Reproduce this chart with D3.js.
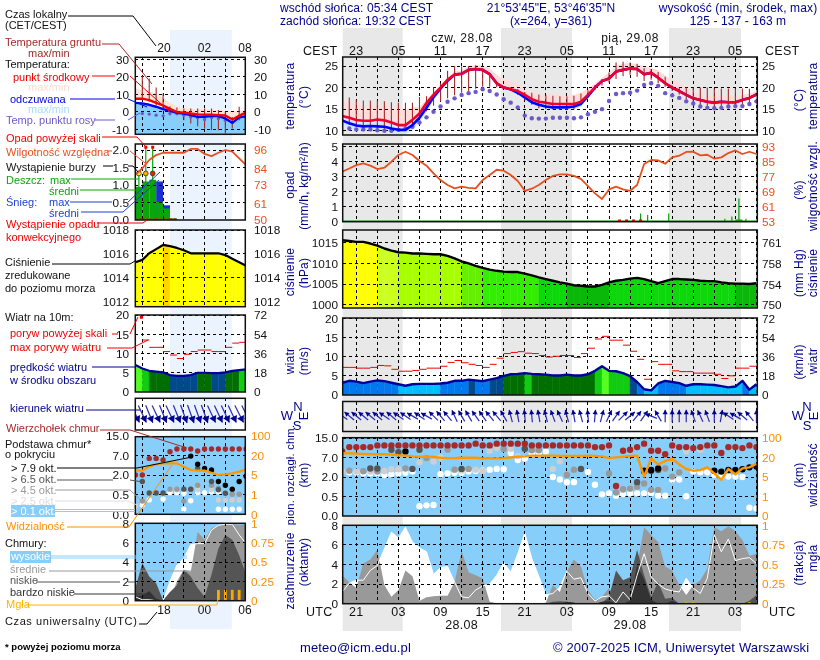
<!DOCTYPE html>
<html>
<head>
<meta charset="utf-8">
<script src="https://cdn.jsdelivr.net/npm/d3@7"></script>
<style>
  body { margin: 0; background: #fff; }
  svg { display: block; }
  text { font-family: "Liberation Sans", Arial, sans-serif; font-size: 11px; }
</style>
</head>
<body>
<div id="chart"></div>
<script>
// ---- main meteogram, one value per hour, first point is 19 UTC ----
const tempMid = [13.4,13,12.5,12.3,12.3,12.6,12.4,11.9,11.3,11.3,12.5,14,16.4,18.3,20,21.8,23,23.2,24.1,24.3,24.1,23.1,21,20,19.6,19.2,18.3,17.3,16.7,16.5,16.2,16.2,16.2,16.2,16.7,18.3,20,21.5,22.1,23.7,24.1,24.4,24.3,23.1,23.4,22.3,21,20,19.2,18.3,17.5,17.1,16.7,16.5,16.7,16.6,16.6,17.1,17.6,18.4];
const tempMax = [16.7,16.6,16,15.7,15.7,15.9,15.7,15.4,15.2,14.8,15.4,15.6,17.1,19,20.6,22.4,23.7,23.9,25,25.2,25.1,24.5,23,21.8,21.4,21,19.9,18.7,18.3,18.5,18.3,18.3,18.3,18.3,18.8,19.8,21,22.3,23.5,25,25.6,25.7,25.4,25,24.6,24,22.8,21.8,21,20,19,18.4,18.2,18,18,18,18,18.2,18.6,19.2];
const feelsMid = [12.4,11.7,11.2,11,11.1,11,10.9,10.5,10.2,10.2,11.3,13,15.3,17.8,19.8,21.6,23,23.2,24.1,24.3,24.1,23.1,21,20,19.6,18.8,17.7,16.6,16,15.6,15.4,15.4,15.4,15.6,16.2,18,20,21.5,22.1,23.7,24.1,24.4,24.3,23.1,23.4,22.3,21,20,19.2,18.3,17.5,17.1,16.7,16.5,16.7,16.6,16.6,17.1,17.6,18.4];
const feelsMin = [11.2,10.5,10,10,10,10,9.8,9.5,9.2,9.2,10,12,14.3,17,19,21,22.5,22.8,23.8,24,23.6,22.6,20.5,19.5,19,18.3,17.1,16,15.4,15,14.8,14.8,14.8,14.8,15.6,17.5,19.6,21.2,21.8,23.4,23.8,24.1,24,22.8,23.1,22,20.7,19.7,18.9,18,17.2,16.8,16.4,16.2,16.4,16.3,16.3,16.8,17.3,18.1];
const dewPoint = [null,10.5,10.3,10.3,10.3,10.1,10,10,10.2,10.5,10.9,11.9,13.1,14.4,15.6,16.7,17.5,18.3,18.7,19,19.6,19.2,18.4,17.3,16.5,15.4,13.5,12.9,12.8,12.8,13,13,13,12.9,13.1,13.8,14.4,15,16.9,18.5,18.7,18.8,19.3,20.6,21,20.4,18.7,18.2,17.6,16.8,16.3,15.6,15.3,15.2,15.3,15.6,15.7,15.7,16.2,16.8];
const groundMax = [null,17.7,17.2,17,17,17,16.8,16.6,16.5,16.5,16.5,17.8,18,20,21,23.9,25,24.9,25,25.2,24.5,23,21,20.1,20,19.6,19,18.8,18.4,18.2,18.1,18,18,18.1,18.6,19.4,20.6,22,23.5,25.8,26,25.8,25.5,24.5,24.3,23.6,22.5,20.5,20,20,20,20,20,19.8,19.8,19.8,19.8,19.8,19.7,null];
const groundMin = [null,11.3,10.9,10.7,10.6,10.4,10.3,10.2,10.4,10.6,11.5,13,14.5,15.8,16.8,17.5,18.2,18.8,19.2,19.7,20.2,20.2,20.1,19.6,19.2,18.3,17,16,15.2,15,14.9,14.8,14.8,15,16,17.7,19.5,20.5,21.2,22,22.6,23,22.5,21.5,21.8,21,20.2,19.2,18.4,17.2,16,15.4,15.2,15.2,15.2,15.2,15.2,15.5,16,null];
const humidity = [79.7,81.4,83.2,84.1,82.9,81.1,81.8,85,88.6,90.3,88.6,85.4,82.9,78.8,75.2,72.6,70.8,71.7,71,70.8,75.2,77.9,80.7,80.2,77.9,74.7,69.5,70.6,72.6,75.2,77.4,78.2,78.2,77.4,75.8,72,68.1,65.1,70.2,71.7,70.2,69.5,72.6,83.8,85.9,85.7,83.9,87.3,88.2,90.2,90.3,88.4,88.7,86.6,87.3,89.6,91,89.1,90.3,89.1];
const rainHours = [42,43,46,54,55,56,57];
const rainVals = [0.55,0.45,0.55,0.2,0.35,1.55,0.2];
const convHours = [39,40,41,42];
const pressure = [1015.6,1015.4,1015.2,1015.2,1014.8,1014.3,1013.6,1013.1,1012.7,1012.6,1012.4,1012.4,1012.3,1012.2,1012.2,1011.8,1011.2,1010.5,1010,1009.4,1008.9,1008.5,1008.2,1008,1007.9,1007.9,1007.5,1007.1,1006.6,1006.2,1005.8,1005.4,1005.1,1004.7,1004.6,1004.4,1004.4,1004.8,1005.4,1005.8,1006,1006.3,1006.5,1006.2,1005.7,1005.2,1005.7,1006.2,1006.2,1006.1,1006,1005.8,1005.7,1005.7,1005.4,1005.2,1005.1,1005.1,1005,1005.2];
const wind = [3.2,3.7,3.5,3.1,3.5,3.8,3.6,3.2,2.8,2.4,2.8,2.9,2.9,2.9,3,3.2,3.7,3.7,4,3.8,3.6,4,4.4,5,5.4,5.5,5.7,5.5,5.4,5.3,5.1,5.1,5.3,5.1,5.1,5.4,6.3,7.5,6.3,6.2,5.7,4.9,3.4,1.5,1.2,3,3.7,3.4,3.1,2.4,2.8,2.8,2.7,2.6,2.3,2,2.2,3.7,1.4,2.8];
const gusts = [7.2,7.2,7,7,7.2,7.7,7.6,6.7,6.2,6.2,6.4,6.7,7,7,7.5,8.5,9,8.4,8,7.7,7.2,8,9.6,10.8,11.1,11.3,10.9,10.8,10.3,9.9,10.1,10.3,10.3,9.8,10.8,12.2,14.6,15.3,14.3,14.3,13,11.4,9.3,4.1,8.7,8,8,6.3,6.1,6.1,5.7,5.7,5.7,5.4,4.3,5,7,7,7.5,null];
const windHeading = [305,310,310,310,310,310,305,310,305,305,300,305,300,315,320,320,335,330,330,325,325,320,320,330,345,350,355,355,350,345,340,335,345,350,345,355,5,15,25,35,45,50,40,35,292,330,0,0,0,0,340,335,340,0,10,305,300,310,320,0];
const cloudTop = [9.5,11.3,11.3,11.3,11.3,12,12,12,12,12,12,12,12,12,12,12,12,12,12,12.7,12,12,12.7,12.7,12.7,12.7,12.7,12,12,12,12,12,12,12,12,12,11.3,11.3,12,1.3,9.8,10.2,11.3,12.7,9.8,9.8,8.4,12,11.3,11.3,10.9,11.3,12,12,8.9,11.3,11.3,10.9,12,11.3];
const baseOver01 = [[1,3.2],[2,3.2],[3,2.95],[4,2.95],[5,2.95],[6,2.5],[7,2.7],[8,2.95],[9,3.1],[10,3.4],[11,0.25],[12,0.27],[13,0.28],[14,2.7],[15,2.95],[16,3.1],[17,3.1],[18,3.4],[19,3.55],[20,3.7],[21,3.9],[22,4.1],[23,4],[24,8.8],[25,6.4],[26,6.8],[27,8.8],[28,8.8],[29,9.5],[30,2],[31,1.8],[32,1.6],[33,1.6],[35,3.3],[36,1.4],[37,0.65],[38,0.73],[39,0.55],[40,0.68],[41,0.73],[42,0.73],[43,0.73],[44,0.73],[45,0.55],[46,0.55],[47,1.8],[48,1.8],[49,0.5],[50,3.4],[51,3.2],[52,3.2],[53,2.5],[54,2.1],[55,2.1],[56,2.1],[57,2],[58,0.21],[59,0.19]];
const baseOver25 = [[0,3.4],[2,3.4],[4,3.4],[6,3.55],[7,4],[8,4],[11,5.8],[13,6],[14,7.1],[17,3.7],[19,3.9],[20,3.6],[21,9.8],[22,10.9],[24,10.6],[25,7.7],[30,4.1],[31,6.1],[40,1],[41,1.1],[49,9.5],[51,10.2]];
const baseOver45 = [[1,3.6],[3,3.5],[5,3.4],[9,4.2],[12,6.9],[15,10.2],[16,3.9],[18,4.1],[23,10.5],[26,10.6],[27,10],[28,10],[32,2.5],[33,3.9],[38,2.9],[39,0.8],[40,1.05],[41,1.1],[42,1.25],[43,1.5],[44,1],[45,1],[46,4.2],[47,2.1],[48,3.2]];
const baseOver65 = [[4,4.2],[5,4.2],[7,10.2],[8,9.2],[10,4.1],[11,10.2],[17,4.1],[26,10.6],[34,4.1],[42,1.6],[43,3.4],[44,3.55],[45,3.8]];
const baseOver79 = [[9,9.5],[43,3.6],[44,3.8],[45,4.2],[53,3.6],[54,3.4],[55,3.8],[56,3.8],[57,4],[58,4.5],[59,4.7]];
const visibility = [37.9,37.9,36.6,35.2,33.8,33.8,33.8,32.4,29.7,28.3,25.5,24.1,24.1,22.8,20,19.7,19.7,20,20,20,19.5,19.7,19.5,19.7,21.4,24.1,25.5,28.3,28.3,28.3,28.3,26.9,26.9,26.9,26.9,28.3,26.9,25.5,19.7,21.4,24.1,26.9,28.3,5.3,19.5,14.8,17.4,19.2,14.8,11.2,9.9,10.4,12.5,7.8,4.4,11.2,7.1,11.7,12.5,15.4];
const coverHigh = [1.2,2.1,2.4,2.4,3.4,3.9,5.6,7.3,6.7,7.8,6.3,5.7,5.3,3,3.7,3.8,2.2,0.7,0.6,1.4,1.8,2,2.9,4.2,3.2,5.1,7.2,4.6,2.8,0.9,1.05,1.7,3.3,2.5,2.65,1.05,0.27,0.7,0.8,0.1,1.2,0.4,2.9,5.1,2.75,2,1.5,1.3,1.2,2.6,1.6,1.05,2.6,7,5.3,6.6,4.4,4.6,4.7,4.1];
const coverMid = [2.9,2.2,1.6,4.1,4.5,5.5,1.9,0.7,1.4,3.4,2.8,0.3,0.65,0.75,0.8,0.8,2.2,5.4,3.2,2.9,2.6,0.2,0.05,0,0,0,0,0,0,0.1,1.9,1.2,3.3,4.5,3.8,1.4,0.4,0.7,1.6,0.4,1.6,2.2,3.9,7.8,7,6.3,3.8,3.4,1.9,0.9,1.9,2.4,3.6,7.8,7.4,7.9,7.4,6.5,4.9,5.1];
const coverLow = [0,0,0,0,0,0,0,0,0,0,0,0,0,0,0,0,0,0,0,0,0,0,0,0,0,0,0,0,0,0,0.2,0.25,0.2,0.1,0,0,0,0.1,0.7,3.4,2.4,2.7,5.5,2.9,0.7,2.2,0.5,0.6,0,0,0,0,0,0,0,0,0,0,0.3,0.9];
const coverVeryLow = [0,0,0,0,0,0,0,0,0,0,0,0,0,0,0,0,0,0,0,0,0,0,0,0,0,0,0,0,0,0,0,0,0.2,0.1,0,0,0,0.2,0.3,0,0,0.3,3.9,2.5,0.4,0,0,0.3,0,0,0,0,0,0,0,0,0,0,0,0.1];
const fogHours = [49,50,58];
const fogVals = [0.02,0.02,0.02];

// ---- small history panels on the left, one value per hour, first point is 14 UTC ----
const sTempMid = [7.5,7.5,6.7,5.1,3.6,1.7,-0.2,-0.4,-1,-1.5,-1.7,-1.7,-1.9,-2.1,-4.4,-2.3,-0.3];
const sTempMax = [13.3,12.5,11.5,10.5,8,5,3,2,1.8,1.5,1.2,1.2,1,0.8,0.2,0.8,0.6];
const sFeelsMid = [5.1,4.8,4,2.9,1.5,0.6,-0.6,-1,-1.9,-2.9,-2.9,-2.3,-2.5,-3.8,-6.3,-3.2,-2.5];
const sFeelsMin = [-13,-13,-13,-13,-13,-13,-13,-13,-13,-13,-13,-13,-13,-13,-13,-13,-13];
const sDewPoint = [null,-1,-1.3,-1.9,-2.3,-1,-1,-1.9,-3,-3.4,-4.4,-3.2,-3.8,-4.8,-6.1,-3.2,null];
const sGroundMax = [null,20.4,19,13.9,10.5,3.2,2.5,1.9,1.9,1.9,1.9,1.9,1,0,-2.9,2.9,null];
const sGroundMin = [null,6.7,5.7,3.8,1.9,-1.9,-1.9,-4.8,-6.7,-8.2,-9.5,-10.5,-10.5,-12.4,-9.5,-4.8,null];
const sHumidity = [79.6,84,89.4,92.7,94.2,94.2,94.2,94.2,96.7,96.7,93.4,92,94.2,96,94.9,90.5,86];
const sRain = [0.95,1.1,1.15,0.52,0.33,0.05];
const sSnow = [0,0,0,1.1,0.42,0];
const sRainMax = [1.38,2.08,2.08];
const sStormColors = ["#ffee00","#ffaa00","#ee2200"];
const sPressure = [1015.3,1015.5,1016.05,1016.4,1016.75,1016.65,1016.5,1016.3,1016.05,1016.05,1016.05,1016.05,1016.05,1015.9,1015.6,1015.3,1015];
const sWind = [7,6.1,5.5,5.3,5.1,4.4,4.2,4.2,4.4,5,5,4.9,4.9,5.1,5.5,5.7,5.9];
const sGusts = [null,13.5,11.6,11.6,10.5,9.6,8.7,9.8,10.5,10.9,10.9,10.5,10.5,11.6,12.7,12.9,null];
const sGustOver = [0.5];
const sHeading = [155,155,158,155,158,155,158,160,160,160,160,155,155,155,155,153,153];
const sCloudTop = [2,2,6.3,6.3,5.9,8.6,9.66,9.66,9.66,8.9,9.66,9.66,9.66,9.66,9.66,9.66,9.66];
const sBaseOver01 = [[1,0.23],[2,0.36],[4,0.38],[5,0.63],[6,0.63],[7,0.58],[7,0.13],[8,0.34],[9,0.63],[10,0.63],[11,0.7],[12,0.7],[12,0.125],[13,0.125],[14,0.125],[15,0.125]];
const sBaseOver25 = [[0,0.2],[5,0.9],[6,0.85],[9,0.85],[11,0.85],[12,0.36],[13,0.36],[14,0.36],[15,0.36]];
const sBaseOver45 = [[1,0.33],[5,0.9],[6,0.9],[7,0.33],[8,0.9],[9,1.2],[11,1.2],[12,0.97],[14,0.5],[15,0.5]];
const sBaseOver65 = [[1,1.5],[2,0.6],[3,0.6],[4,0.6],[7,0.9],[8,0.9],[9,3.7],[11,1.5],[12,0.85],[13,0.58]];
const sBaseOver79 = [[8,6.9],[9,4.8],[10,3.7],[11,3.3],[12,1.5],[13,1.2],[14,0.9],[15,1.5],[16,1.9]];
const sVisibility = [8.4,8.4,11.5,13.3,14,14,14,11.5,8.9,8.4,8.4,6.8,5,5.5,6.3,7.6,9.4];
const sCoverHigh = [0.4,0.1,0.1,0,0,2,3.7,4.4,5.8,5.9,5.9,7.3,7.8,7.9,7.9,6.8,5.9];
const sCoverMid = [0,0,0,0,0,0,2,3.2,3,7.1,6.3,7.5,7.8,7.9,7.9,7.8,7.9];
const sCoverLow = [1.3,3.9,2.5,1.8,0.05,0.9,1.6,3.2,2.5,1.3,0.4,2.7,5.4,6.8,6.3,4.7,2.7];
const sCoverVeryLow = [0.5,0.5,1,0.2,0,0,0,0,0,0,0,0,0,0,0,0,0];
const sFogHours = [12,13,14,15];
const sFogVals = [0.14,0.14,0.14,0.14];

// tick labels
const localTicks = ["23","05","11","17","23","05","11","17","23","05"];
const utcTicks = ["21","03","09","15","21","03","09","15","21","03"];
const sLocalTicks = ["20","02","08"];
const sUtcTicks = ["18","00","06"];

const W = 820, H = 660;
const svg = d3.select("#chart").append("svg").attr("width", W).attr("height", H);
const navy = "#00008b", brown = "#a52a2a", orange = "#ff8c00", rhColor = "#e6501e";

const x = d3.scaleLinear().domain([0, 59]).range([342.26, 342.26 + 7.02 * 59]);
const sx = d3.scaleLinear().domain([0, 16]).range([135.4, 246.1]);
const xMain = { scale: x, l: 342.7, r: 757.3, grid: d3.range(2, 60, 3), name: "m" };
const xSide = { scale: sx, l: 135.3, r: 245.3, grid: d3.range(1, 17, 3), name: "s" };

// day/night bands sit behind everything
[[342.7, 402.7], [501, 572], [669, 741]].forEach(b => {
  svg.append("rect").attr("x", b[0]).attr("y", 28).attr("width", b[1] - b[0]).attr("height", 603).attr("fill", "#e8e8e8");
});
svg.append("rect").attr("x", 170).attr("y", 30).attr("width", 61.7).attr("height", 599).attr("fill", "#ebf3fe");

let clipN = 0;
// one panel: clip group + frame + dashed grid, returned so marks can go inside
function panel(X, top, bottom) {
  const id = "clip" + (clipN++);
  svg.append("clipPath").attr("id", id).append("rect")
    .attr("x", X.l).attr("y", top).attr("width", X.r - X.l).attr("height", bottom - top);
  const g = svg.append("g").attr("clip-path", `url(#${id})`);
  return { g, X, top, bottom };
}
function grid(p, yVals) {
  const g = p.g.append("g").attr("stroke", "#000").attr("stroke-width", 1).attr("stroke-dasharray", "3,3").attr("shape-rendering", "crispEdges");
  p.X.grid.forEach(t => g.append("line").attr("x1", p.X.scale(t)).attr("x2", p.X.scale(t)).attr("y1", p.top).attr("y2", p.bottom));
  yVals.forEach(y => g.append("line").attr("x1", p.X.l).attr("x2", p.X.r).attr("y1", y).attr("y2", y));
}
function frame(p) {
  svg.append("rect").attr("x", p.X.l).attr("y", p.top).attr("width", p.X.r - p.X.l).attr("height", p.bottom - p.top)
    .attr("fill", "none").attr("stroke", "#111").attr("stroke-width", 1.5);
}
function axis(gen, scale, vals, xPos, color, fmt) {
  const g = svg.append("g").attr("transform", `translate(${xPos},0)`)
    .call(gen(scale).tickValues(vals).tickSize(0).tickPadding(0).tickFormat(fmt || (d => d)));
  g.select(".domain").remove();
  g.selectAll("text").attr("fill", color).style("font-size", "11.8px").style("font-family", '"Liberation Sans"');
}
function drawLine(p, vals, color, width) {
  return (yS) => p.g.append("path")
    .attr("d", d3.line().defined(d => d != null).x((d, i) => p.X.scale(i)).y(d => yS(d))(vals))
    .attr("fill", "none").attr("stroke", color).attr("stroke-width", width).attr("stroke-linejoin", "round");
}
function band(p, y0vals, y1vals, yS, color) {
  p.g.append("path")
    .datum(d3.range(y0vals.length))
    .attr("d", d3.area().x(i => p.X.scale(i)).y0(i => yS(y0vals[i])).y1(i => yS(y1vals[i])))
    .attr("fill", color).style("mix-blend-mode", "multiply");
}
// coloured columns under a line, colour comes from the value in that hour
function stepFill(p, vals, yS, colorScale) {
  const a = d3.area().x(d => p.X.scale(d.t)).y0(p.bottom).y1(d => yS(d.v));
  vals.slice(0, -1).forEach((v, i) => {
    p.g.append("path").attr("d", a([{ t: i, v: v }, { t: i + 1, v: vals[i + 1] }]))
      .attr("fill", colorScale(v)).attr("stroke", colorScale(v)).attr("stroke-width", 0.4);
  });
}
function dots(p, pts, yS, color, r) {
  p.g.selectAll(null).data(pts).enter().append("circle")
    .attr("cx", d => p.X.scale(d[0])).attr("cy", d => yS(d[1])).attr("r", r).attr("fill", color);
}
function arrows(p, heads, cy, len, headL, headW) {
  heads.forEach((h, i) => {
    const a = h * Math.PI / 180, cx = p.X.scale(i);
    const dx = Math.sin(a) * len / 2, dy = -Math.cos(a) * len / 2;
    const g = p.g.append("g").attr("transform", `translate(${cx + dx},${cy + dy}) rotate(${h})`);
    g.append("line").attr("x1", 0).attr("y1", 0).attr("x2", 0).attr("y2", len).attr("stroke", "#2a2ab8").attr("stroke-width", 1.2);
    g.append("path").attr("d", `M0,0L${headW},${headL}L${-headW},${headL}Z`).attr("fill", "#000090");
  });
}

const pressColor = d3.scaleThreshold().domain([1005.15, 1007, 1009, 1011.2, 1012.9, 1014.7, 1016.7])
  .range(["#09b809", "#0cd80c", "#33ee00", "#66f000", "#a8ff00", "#ccff22", "#ffff00", "#ffd400"]);
const windColor = d3.scaleThreshold().domain([3, 4, 5, 5.6, 7])
  .range(["#00bfff", "#0078f0", "#004a8c", "#006f00", "#12cc12", "#55ff22"]);

// ================= MAIN COLUMN =================
// temperature
{
  const y = d3.scaleLinear().domain([10, 25]).range([130.7, 66]);
  const p = panel(xMain, 57, 135);
  band(p, tempMid, tempMax, y, "#ffdcdc");
  band(p, feelsMin, tempMid, y, "#cfe8ff");
  grid(p, [10, 15, 20, 25].map(y));
  groundMax.forEach((v, i) => {
    if (v != null) p.g.append("line").attr("x1", x(i)).attr("x2", x(i)).attr("y1", y(v)).attr("y2", y(groundMin[i])).attr("stroke", brown).attr("stroke-width", 1.1);
  });
  dots(p, dewPoint.map((v, i) => [i, v]).filter(d => d[1] != null), y, "#6a5acd", 2.2);
  drawLine(p, feelsMid, "#0000ff", 2.6)(y);
  drawLine(p, tempMid, "#f0002a", 2.6)(y);
  frame(p);
  axis(d3.axisLeft, y, [10, 15, 20, 25], 338, "#111");
  axis(d3.axisRight, y, [10, 15, 20, 25], 762, "#111");
}
// rain + humidity
{
  const y = d3.scaleLinear().domain([0, 5]).range([221.7, 146.7]);
  const rh = d3.scaleLinear().domain([53, 93]).range([221.7, 146.7]);
  const p = panel(xMain, 144, 221.7);
  grid(p, [0, 1, 2, 3, 4, 5].map(y));
  p.g.append("line").attr("x1", p.X.l).attr("x2", p.X.r).attr("y1", 221).attr("y2", 221).attr("stroke", "#0a9a0a");
  rainHours.forEach((h, i) => p.g.append("line").attr("x1", x(h + 0.5)).attr("x2", x(h + 0.5)).attr("y1", y(0)).attr("y2", y(rainVals[i])).attr("stroke", "#0aa00a").attr("stroke-width", 1.2));
  convHours.forEach(h => p.g.append("rect").attr("x", x(h + 0.5) - 1.5).attr("y", 219.5).attr("width", 3).attr("height", 2).attr("fill", "#e00000"));
  p.g.append("rect").attr("x", x(56.5) - 3.5).attr("y", 219.5).attr("width", 7).attr("height", 2).attr("fill", "#0aa00a");
  drawLine(p, humidity, rhColor, 1.8)(rh);
  frame(p);
  axis(d3.axisLeft, y, [0, 1, 2, 3, 4, 5], 338, "#111");
  axis(d3.axisRight, rh, [53, 61, 69, 77, 85, 93], 762, rhColor);
}
// pressure
{
  const y = d3.scaleLinear().domain([1000, 1015]).range([304.7, 242.7]);
  const hg = d3.scaleLinear().domain([750, 754, 758, 761]).range([304.7, 284.3, 263.3, 242.7]);
  const p = panel(xMain, 230, 308);
  stepFill(p, pressure, y, pressColor);
  grid(p, [1000, 1005, 1010, 1015].map(y));
  drawLine(p, pressure, "#000", 2.4)(y);
  frame(p);
  axis(d3.axisLeft, y, [1000, 1005, 1010, 1015], 338, "#111");
  axis(d3.axisRight, hg, [750, 754, 758, 761], 762, "#111");
}
// wind speed, the fill hides the grid here
{
  const y = d3.scaleLinear().domain([0, 20]).range([395, 318.3]);
  const kmh = d3.scaleLinear().domain([0, 72]).range([395, 318.3]);
  const p = panel(xMain, 318, 395);
  grid(p, [5, 10, 15, 20].map(y));
  stepFill(p, wind, y, windColor);
  gusts.forEach((v, i) => {
    if (v != null) p.g.append("line").attr("x1", x(i)).attr("x2", x(i + 1)).attr("y1", y(v)).attr("y2", y(v)).attr("stroke", "#f00000").attr("stroke-width", 1);
  });
  drawLine(p, wind, "#00009a", 2.4)(y);
  frame(p);
  axis(d3.axisLeft, y, [0, 5, 10, 15, 20], 338, "#111");
  axis(d3.axisRight, kmh, [0, 18, 36, 54, 72], 762, "#111");
}
// wind direction
{
  const p = panel(xMain, 401.5, 431.5);
  grid(p, []);
  arrows(p, windHeading, 416, 12.5, 4.5, 2.6);
  frame(p);
}
// cloud base / top + visibility
const cloudRange = [516, 496.3, 477, 457.7, 438];
{
  const y = d3.scaleLinear().domain([0, 0.5, 2, 7, 15]).range(cloudRange);
  const vis = d3.scaleLinear().domain([0, 1, 5, 20, 100]).range(cloudRange);
  const p = panel(xMain, 437.7, 516);
  p.g.append("rect").attr("x", p.X.l).attr("y", p.top).attr("width", p.X.r - p.X.l).attr("height", p.bottom - p.top).attr("fill", "#87cefa").style("mix-blend-mode", "multiply");
  grid(p, cloudRange);
  dots(p, baseOver01, y, "#ffffff", 3.2);
  dots(p, baseOver25, y, "#cfcfcf", 3.2);
  dots(p, baseOver45, y, "#999999", 3.2);
  dots(p, baseOver65, y, "#555555", 3.2);
  dots(p, baseOver79, y, "#000000", 3.2);
  dots(p, cloudTop.map((v, i) => [i, v]), y, brown, 3.2);
  drawLine(p, visibility, "#ff9800", 2.4)(vis);
  frame(p);
  axis(d3.axisLeft, y, [0, 0.5, 2, 7, 15], 338, "#111", d3.format(".1f"));
  axis(d3.axisRight, vis, [0, 1, 5, 20, 100], 762, orange);
}
// cloud cover
{
  const y = d3.scaleLinear().domain([0, 8]).range([603.7, 525.3]);
  const fr = d3.scaleLinear().domain([0, 1]).range([603.7, 525.3]);
  const p = panel(xMain, 525.3, 603.7);
  p.g.append("rect").attr("x", p.X.l).attr("y", p.top).attr("width", p.X.r - p.X.l).attr("height", p.bottom - p.top).attr("fill", "#87cefa").style("mix-blend-mode", "multiply");
  const area = d3.area().x((d, i) => x(i)).y0(y(0)).y1(d => y(d));
  p.g.append("path").attr("d", area(coverHigh)).attr("fill", "#fff");
  p.g.append("path").attr("d", area(coverMid)).attr("fill", "#999");
  p.g.append("path").attr("d", area(coverLow)).attr("fill", "#555");
  p.g.append("path").attr("d", area(coverVeryLow)).attr("fill", "#333");
  drawLine(p, coverHigh, "#fff", 1)(y);
  fogHours.forEach((h, i) => p.g.append("rect").attr("x", x(h) - 1.3).attr("y", fr(fogVals[i])).attr("width", 2.6).attr("height", 603.7 - fr(fogVals[i])).attr("fill", "#ffa500"));
  grid(p, [0, 2, 4, 6, 8].map(y));
  frame(p);
  axis(d3.axisLeft, y, [0, 2, 4, 6, 8], 338, "#111");
  axis(d3.axisRight, fr, [0, 0.25, 0.5, 0.75, 1], 762, orange);
}

// ================= HISTORY COLUMN =================
{
  const y = d3.scaleLinear().domain([-10, 30]).range([129.3, 59.3]);
  const p = panel(xSide, 57.3, 134.3);
  band(p, sTempMid, sTempMax, y, "#ffe2d8");
  band(p, sFeelsMin, sFeelsMid, y, "#87cefa");
  grid(p, [-10, 0, 10, 20, 30].map(y));
  sGroundMax.forEach((v, i) => {
    if (v != null) p.g.append("line").attr("x1", sx(i)).attr("x2", sx(i)).attr("y1", y(v)).attr("y2", y(sGroundMin[i])).attr("stroke", brown).attr("stroke-width", 1.1);
  });
  dots(p, sDewPoint.map((v, i) => [i, v]).filter(d => d[1] != null), y, "#6a5acd", 1.7);
  drawLine(p, sFeelsMid, "#0000ff", 2.4)(y);
  drawLine(p, sTempMid, "#f00000", 2.4)(y);
  frame(p);
  axis(d3.axisLeft, y, [-10, 0, 10, 20, 30], 129, "#111");
  axis(d3.axisRight, y, [-10, 0, 10, 20, 30], 254, "#111");
}
{
  const y = d3.scaleLinear().domain([0, 2]).range([220, 150]);
  const rh = d3.scaleLinear().domain([50, 96]).range([220, 150]);
  const p = panel(xSide, 144, 220);
  sSnow.forEach((v, i) => {
    if (v > 0) p.g.append("rect").attr("x", sx(i)).attr("y", y(v)).attr("width", sx(i + 1) - sx(i)).attr("height", y(0) - y(v)).attr("fill", "#1c2fd0");
  });
  sRain.forEach((v, i) => p.g.append("rect").attr("x", sx(i)).attr("y", y(v)).attr("width", sx(i + 1) - sx(i)).attr("height", y(0) - y(v)).attr("fill", "#0aa50a"));
  grid(p, [0, 0.5, 1, 1.5, 2].map(y));
  sRainMax.forEach((v, i) => {
    p.g.append("line").attr("x1", sx(i + 0.5)).attr("x2", sx(i + 0.5)).attr("y1", y(0.9)).attr("y2", y(v)).attr("stroke", "#0aa50a").attr("stroke-width", 1.2);
    if (v > 2) p.g.append("rect").attr("x", sx(i + 0.5) - 1.5).attr("y", y(v) - 1.5).attr("width", 3).attr("height", 3).attr("fill", "#f00000");
    p.g.append("circle").attr("cx", sx(i + 0.5)).attr("cy", y(1.33)).attr("r", 2.4).attr("fill", sStormColors[i]).attr("stroke", "#333").attr("stroke-width", 0.8);
  });
  sRain.forEach((v, i) => p.g.append("line").attr("x1", sx(i)).attr("x2", sx(i + 1)).attr("y1", 219).attr("y2", 219).attr("stroke", "#f00000").attr("stroke-dasharray", "2,2"));
  drawLine(p, sHumidity, rhColor, 1.8)(rh);
  frame(p);
  axis(d3.axisLeft, y, [0, 0.5, 1, 1.5, 2], 129, "#111", d3.format(".1f"));
  axis(d3.axisRight, rh, [50, 61, 73, 84, 96], 254, rhColor);
}
{
  const y = d3.scaleLinear().domain([1012, 1018]).range([301.7, 230]);
  const p = panel(xSide, 230, 306.7);
  stepFill(p, sPressure, y, pressColor);
  grid(p, [1012, 1014, 1016, 1018].map(y));
  drawLine(p, sPressure, "#000", 2.2)(y);
  frame(p);
  axis(d3.axisLeft, y, [1012, 1014, 1016, 1018], 129, "#111");
  axis(d3.axisRight, y, [1012, 1014, 1016, 1018], 254, "#111");
}
{
  const y = d3.scaleLinear().domain([0, 20]).range([392, 315]);
  const kmh = d3.scaleLinear().domain([0, 72]).range([392, 315]);
  const p = panel(xSide, 315, 392);
  grid(p, [5, 10, 15, 20].map(y));
  stepFill(p, sWind, y, windColor);
  sGusts.forEach((v, i) => {
    if (v != null) p.g.append("line").attr("x1", sx(i)).attr("x2", sx(i + 1)).attr("y1", y(v)).attr("y2", y(v)).attr("stroke", "#f00000").attr("stroke-width", 1);
  });
  sGustOver.forEach(h => p.g.append("rect").attr("x", sx(h) + 1).attr("y", y(19.8)).attr("width", 3).attr("height", 3).attr("fill", "#f00000"));
  drawLine(p, sWind, "#00009a", 2.2)(y);
  frame(p);
  axis(d3.axisLeft, y, [0, 5, 10, 15, 20], 129, "#111");
  axis(d3.axisRight, kmh, [0, 18, 36, 54, 72], 254, "#111");
}
{
  const p = panel(xSide, 398.3, 430);
  grid(p, []);
  arrows(p, sHeading, 414, 19, 6.5, 3.8);
  frame(p);
}
{
  const r = [514.3, 494.3, 475, 455.7, 435.7];
  const y = d3.scaleLinear().domain([0, 0.5, 2, 7, 15]).range(r);
  const vis = d3.scaleLinear().domain([0, 1, 5, 20, 100]).range(r);
  const p = panel(xSide, 436.7, 514.3);
  p.g.append("rect").attr("x", p.X.l).attr("y", p.top).attr("width", p.X.r - p.X.l).attr("height", p.bottom - p.top).attr("fill", "#87cefa").style("mix-blend-mode", "multiply");
  grid(p, r);
  dots(p, sBaseOver01, y, "#ffffff", 2.7);
  dots(p, sBaseOver25, y, "#cfcfcf", 2.7);
  dots(p, sBaseOver45, y, "#999999", 2.7);
  dots(p, sBaseOver65, y, "#555555", 2.7);
  dots(p, sBaseOver79, y, "#000000", 2.7);
  dots(p, sCloudTop.map((v, i) => [i, v]), y, brown, 2.7);
  drawLine(p, sVisibility, "#ff9800", 2.2)(vis);
  frame(p);
  axis(d3.axisLeft, y, [0, 0.5, 2, 7, 15], 129, "#111", d3.format(".1f"));
  axis(d3.axisRight, vis, [0, 1, 5, 20, 100], 251, orange);
}
{
  const y = d3.scaleLinear().domain([0, 8]).range([600.7, 523.3]);
  const fr = d3.scaleLinear().domain([0, 1]).range([600.7, 523.3]);
  const p = panel(xSide, 523.3, 600.7);
  p.g.append("rect").attr("x", p.X.l).attr("y", p.top).attr("width", p.X.r - p.X.l).attr("height", p.bottom - p.top).attr("fill", "#87cefa").style("mix-blend-mode", "multiply");
  const area = d3.area().x((d, i) => sx(i)).y0(y(0)).y1(d => y(d));
  p.g.append("path").attr("d", area(sCoverHigh)).attr("fill", "#fff");
  p.g.append("path").attr("d", area(sCoverMid)).attr("fill", "#999");
  p.g.append("path").attr("d", area(sCoverLow)).attr("fill", "#555");
  p.g.append("path").attr("d", area(sCoverVeryLow)).attr("fill", "#333");
  drawLine(p, sCoverHigh, "#fff", 1)(y);
  sFogHours.forEach((h, i) => p.g.append("rect").attr("x", sx(h) - 1.4).attr("y", fr(sFogVals[i])).attr("width", 2.8).attr("height", 600.7 - fr(sFogVals[i])).attr("fill", "#ffa500"));
  grid(p, [0, 2, 4, 6, 8].map(y));
  frame(p);
  axis(d3.axisLeft, y, [0, 2, 4, 6, 8], 129, "#111");
  axis(d3.axisRight, fr, [0, 0.25, 0.5, 0.75, 1], 251, orange);
}

// ================= TEXT =================
function t(xp, yp, s, color, opt) {
  opt = opt || {};
  return svg.append("text").attr("x", xp).attr("y", yp).text(s)
    .attr("fill", color || "#000")
    .attr("text-anchor", opt.anchor || "start")
    .style("font-size", (opt.size || 11) + "px")
    .style("font-weight", opt.bold ? "bold" : "normal")
    .style("letter-spacing", (opt.ls != null ? opt.ls : 0) + "px");
}
function vt(xp, yp, s, size) {
  svg.append("text").attr("transform", `translate(${xp},${yp}) rotate(-90)`).text(s)
    .attr("fill", navy).attr("text-anchor", "middle").style("font-size", (size || 12) + "px").style("letter-spacing", "0.2px");
}
function leader(pts, color, w) {
  svg.append("path").attr("d", d3.line()(pts)).attr("fill", "none").attr("stroke", color).attr("stroke-width", w || 1);
}

// header
t(280, 12, "wschód słońca: 05:34 CEST", navy, { size: 12, ls: 0.1 });
t(280, 25, "zachód słońca: 19:32 CEST", navy, { size: 12, ls: 0.1 });
t(551, 12, "21°53'45\"E, 53°46'35\"N", navy, { anchor: "middle", size: 12, ls: 0.1 });
t(551, 25, "(x=264, y=361)", navy, { anchor: "middle", size: 12, ls: 0.1 });
t(738, 12, "wysokość (min, środek, max)", navy, { anchor: "middle", size: 12, ls: 0.15 });
t(738, 25, "125 - 137 - 163 m", navy, { anchor: "middle", size: 12, ls: 0.1 });
t(462, 42, "czw, 28.08", "#111", { anchor: "middle", size: 12, ls: 0.5 });
t(630, 42, "pią, 29.08", "#111", { anchor: "middle", size: 12, ls: 0.5 });
t(303, 55, "CEST", "#111", { size: 12.5, ls: 0.3 });
t(765, 55, "CEST", "#111", { size: 12.5, ls: 0.3 });
t(306, 616, "UTC", "#111", { size: 12.5, ls: 0.3 });
t(769, 616, "UTC", "#111", { size: 12.5, ls: 0.3 });
localTicks.forEach((s, i) => t(x(2 + 6 * i), 55, s, "#111", { anchor: "middle", size: 12.5, ls: 0.3 }));
utcTicks.forEach((s, i) => t(x(2 + 6 * i), 616, s, "#111", { anchor: "middle", size: 12.5, ls: 0.3 }));
t(461.7, 629, "28.08", "#111", { anchor: "middle", size: 12.5, ls: 0.3 });
t(630, 629, "29.08", "#111", { anchor: "middle", size: 12.5, ls: 0.3 });
t(300, 652, "meteo@icm.edu.pl", navy, { size: 13, ls: 0.15 });
t(553, 652, "© 2007-2025 ICM, Uniwersytet Warszawski", navy, { size: 13, ls: 0.15 });
sLocalTicks.forEach((s, i) => t(164 + 40.5 * i, 52, s, "#111", { anchor: "middle", size: 12, ls: 0.2 }));
sUtcTicks.forEach((s, i) => t(164 + 40.5 * i, 614, s, "#111", { anchor: "middle", size: 12, ls: 0.2 }));

// rotated axis titles
vt(294, 96, "temperatura"); vt(308, 97, "(°C)");
vt(294, 185, "opad"); vt(308, 186, "(mm/h, kg/m²/h)");
vt(294, 272, "ciśnienie"); vt(308, 273, "(hPa)");
vt(294, 361, "wiatr"); vt(308, 361, "(m/s)");
vt(294, 475, "pion. rozciągł. chm.", 11.2); vt(308, 475, "(km)");
vt(294, 571, "zachmurzenie"); vt(308, 562, "(oktanty)");
vt(803, 100, "(°C)"); vt(817, 96, "temperatura");
vt(803, 190, "(%)"); vt(817, 186, "wilgotność wzgl.");
vt(803, 273, "(mm Hg)"); vt(817, 273, "ciśnienie");
vt(803, 362, "(km/h)"); vt(817, 361, "wiatr");
vt(803, 475, "(km)"); vt(817, 475, "widzialność");
vt(803, 563, "(frakcja)"); vt(817, 558, "mgła");

// compass letters next to the wind direction strip
[[287, 298, 304, 297], [798, 807, 814, 807]].forEach(c => {
  t(c[0], 420, "W", navy, { anchor: "middle", size: 13 });
  t(c[1], 411, "N", navy, { anchor: "middle", size: 13 });
  svg.append("text").attr("transform", `translate(${c[2] + 4},416) rotate(-90)`).text("E").attr("fill", navy).attr("text-anchor", "middle").style("font-size", "13px");
  t(c[3], 430, "S", navy, { anchor: "middle", size: 13 });
});

// legend + leaders of the left column
t(5, 18, "Czas lokalny", "#111");
t(5, 29, "(CET/CEST)", "#111");
leader([[68, 16], [133, 16], [156, 46]], "#000");
t(5, 46, "Temperatura gruntu", brown);
t(28, 57, "max/min", brown);
leader([[102, 44], [119, 44], [152, 84]], brown);
t(5, 68, "Temperatura:", "#111");
t(13, 81, "punkt środkowy", "#f00000");
leader([[92, 76], [115, 76]], "#f00000");
leader([[130, 76], [157, 100], [170, 112]], "#f00000");
t(28, 91, "max/min", "#ffdcd0");
t(10, 103, "odczuwana", "#0000e0");
leader([[70, 99], [115, 99]], "#0000e0");
leader([[128, 99], [147, 107]], "#0000e0");
t(28, 113, "max/min", "#a8dcfa");
t(6, 124, "Temp. punktu rosy", "#6a5acd");
leader([[95, 120], [115, 120]], "#6a5acd");
leader([[128, 120], [140, 113]], "#6a5acd");
t(6, 142, "Opad powyżej skali", "#f00000");
leader([[102, 137], [137, 137], [146, 147]], "#f00000");
t(6, 156, "Wilgotność względna", rhColor);
leader([[107, 151], [112, 151]], rhColor);
leader([[130, 151], [145, 163]], rhColor);
t(6, 171, "Wystąpienie burzy", "#111");
leader([[103, 166], [113, 166]], "#000");
leader([[128, 166], [133, 166], [138, 172]], "#000");
t(6, 184, "Deszcz:", "#0aa50a");
t(50, 184, "max", "#0aa50a");
leader([[71, 179], [139, 179]], "#0aa50a");
t(49, 195, "średni", "#0aa50a");
leader([[80, 190], [143, 190]], "#0aa50a");
t(6, 206, "Śnieg:", "#1c3fd0");
t(49, 206, "max", "#1c3fd0");
leader([[70, 202], [112, 202]], "#1c3fd0");
leader([[128, 202], [160, 172]], "#1c3fd0");
t(49, 217, "średni", "#1c3fd0");
leader([[81, 212], [123, 212], [159, 180]], "#1c3fd0");
t(6, 228, "Wystąpienie opadu", "#f00000");
t(6, 241, "konwekcyjnego", "#f00000");
leader([[97, 223], [143, 223], [147, 220]], "#f00000");
t(5, 266, "Ciśnienie", "#111");
t(5, 279, "zredukowane", "#111");
t(5, 292, "do poziomu morza", "#111");
leader([[52, 264], [130, 264], [135, 261]], "#000");
t(5, 321, "Wiatr na 10m:", "#111");
t(10, 337, "poryw powyżej skali", "#f00000");
leader([[112, 334], [118, 334]], "#f00000");
leader([[130, 334], [138, 317]], "#f00000");
t(10, 351, "max porywy wiatru", "#f00000");
leader([[107, 348], [132, 348], [148, 340]], "#f00000");
t(10, 371, "prędkość wiatru", navy);
t(10, 384, "w środku obszaru", navy);
leader([[92, 367], [135, 367]], navy);
t(10, 412, "kierunek wiatru", navy);
leader([[86, 410], [140, 410]], navy);
t(6, 432, "Wierzchołek chmur", brown);
leader([[100, 430], [130, 430], [187, 448]], brown);
t(5, 448, "Podstawa chmur*", "#111");
t(5, 458, "o pokryciu", "#111");
t(11, 472, "> 7.9 okt.", "#111");
leader([[57, 468], [137, 468], [192, 457]], "#000");
t(11, 483, "> 6.5 okt.", "#555");
leader([[57, 480], [113, 480]], "#555");
leader([[130, 480], [143, 482]], "#555");
t(11, 494, "> 4.5 okt.", "#999");
leader([[55, 490], [130, 490], [143, 502]], "#999");
t(11, 505, "> 2.5 okt.", "#ddd");
leader([[55, 501], [128, 501], [137, 505]], "#ddd");
svg.append("rect").attr("x", 11).attr("y", 505).attr("width", 44).attr("height", 12).attr("fill", "#87cefa");
t(11, 515, "> 0.1 okt.", "#fff");
leader([[55, 509.5], [135, 509.5]], "#87cefa");
leader([[55, 511.5], [135, 511.5]], "#87cefa");
t(6, 530, "Widzialność", "#ff9000");
leader([[67, 527], [129, 527], [172, 465]], "#ff9000");
t(5, 547, "Chmury:", "#111");
svg.append("rect").attr("x", 10).attr("y", 551).attr("width", 41).attr("height", 12).attr("fill", "#87cefa");
t(11, 560, "wysokie", "#fff");
leader([[51, 556], [187, 556]], "#87cefa");
leader([[51, 558], [187, 558]], "#87cefa");
t(10, 573, "średnie", "#999");
leader([[49, 571], [193, 571]], "#999");
t(10, 584, "niskie", "#555");
leader([[36, 582], [120, 582]], "#555");
leader([[128, 582], [135, 582]], "#555");
t(10, 596, "bardzo niskie", "#333");
leader([[74, 594], [150, 594]], "#333");
t(6, 608, "Mgła", "#ffb400");
leader([[26, 605], [217, 605], [219, 592]], "#ffb400");
t(5, 625, "Czas uniwersalny (UTC)", "#111", { ls: 0.6 });
leader([[139, 624], [147, 624], [157, 612]], "#000");
t(5, 650, "* powyżej poziomu morza", "#000", { size: 9.5, bold: true, ls: 0 });
</script>
</body>
</html>
